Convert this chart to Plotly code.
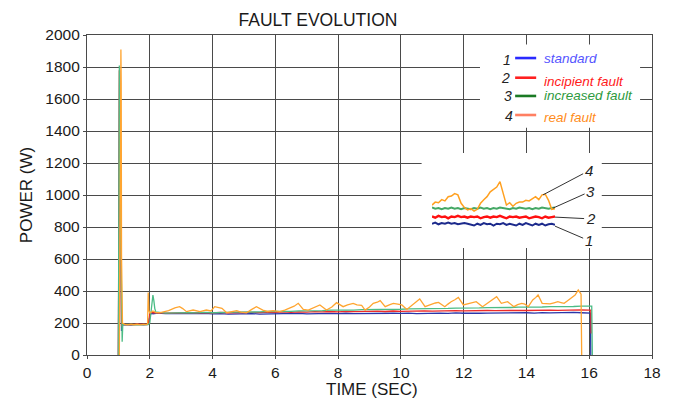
import plotly.graph_objects as go

# ---------------- data ----------------
t_run = [2.25, 2.5, 2.75, 3.0, 3.25, 3.5, 3.75, 4.0, 4.25, 4.5, 4.75, 5.0, 5.25, 5.5,
         5.75, 6.0, 6.25, 6.5, 6.75, 7.0, 7.25, 7.5, 7.75, 8.0, 8.25, 8.5, 8.75, 9.0,
         9.25, 9.5, 9.75, 10.0, 10.25, 10.5, 10.75, 11.0, 11.25, 11.5, 11.75, 12.0,
         12.25, 12.5, 12.75, 13.0, 13.25, 13.5, 13.75, 14.0, 14.25, 14.5, 14.75, 15.0,
         15.25, 15.5, 15.75, 16.0]

std_t_start = [1.0, 1.02, 1.04, 1.07, 1.1, 1.13, 1.2, 1.4, 1.6, 1.8, 1.95, 2.0, 2.05, 2.1, 2.2]
std_start = [0, 1500, 1780, 900, 150, 188, 190, 188, 192, 189, 191, 240, 262, 258, 260]
std_run = [262, 258, 259, 257, 259, 258, 260, 257, 259, 256, 258, 257, 259, 256, 258, 257,
           259, 258, 260, 257, 259, 258, 260, 258, 261, 259, 260, 258, 261, 259, 261, 260,
           262, 259, 261, 260, 262, 260, 263, 261, 263, 261, 262, 263, 261, 264, 262, 264,
           262, 265, 263, 265, 263, 266, 264, 265]
std_t_end = [16.04, 16.05]
std_end = [262, 0]

inc_t_start = [1.0, 1.03, 1.07, 1.1, 1.13, 1.2, 1.4, 1.6, 1.8, 1.95, 2.0, 2.05, 2.1, 2.2]
inc_start = [0, 1780, 1000, 180, 192, 191, 189, 193, 190, 192, 255, 268, 264, 262]
inc_run = [264, 262, 263, 261, 264, 262, 265, 263, 266, 264, 266, 265, 267, 265, 268, 266,
           269, 267, 270, 268, 271, 269, 272, 270, 273, 271, 273, 272, 274, 272, 275, 273,
           275, 274, 276, 274, 276, 275, 277, 276, 278, 276, 278, 277, 279, 277, 279, 278,
           280, 279, 281, 279, 281, 280, 282, 281]
inc_t_end = [16.05, 16.06]
inc_end = [281, 135]

incr_t_start = [1.0, 1.03, 1.06, 1.09, 1.12, 1.14, 1.3, 1.5, 1.7, 1.95, 2.0, 2.05, 2.1, 2.13, 2.16, 2.2]
incr_start = [0, 1810, 1000, 300, 83, 190, 192, 189, 191, 190, 200, 300, 375, 340, 290, 265]
incr_run = [268, 262, 264, 262, 265, 263, 266, 264, 267, 266, 268, 267, 270, 269, 272, 271,
            274, 273, 276, 275, 278, 277, 280, 279, 282, 281, 283, 283, 285, 284, 287, 286,
            288, 288, 290, 289, 291, 291, 293, 292, 294, 294, 296, 295, 297, 297, 299, 298,
            300, 300, 302, 301, 303, 303, 305, 304]
incr_t_end = [16.08, 16.1]
incr_end = [305, 0]

real_t = [1.03, 1.06, 1.08, 1.09, 1.10, 1.11, 1.13, 1.2, 1.3, 1.4, 1.5, 1.6, 1.7, 1.8, 1.9,
          1.93, 1.95, 1.97, 2.0, 2.1, 2.2, 2.3, 2.45, 2.6, 2.8, 2.95, 3.05, 3.17, 3.38, 3.6,
          3.8, 3.95, 4.07, 4.2, 4.3, 4.45, 4.6, 4.77, 4.9, 5.08, 5.25, 5.4, 5.6, 5.75, 5.93,
          6.14, 6.3, 6.46, 6.6, 6.73, 6.89, 7.05, 7.2, 7.3, 7.42, 7.63, 7.8, 7.95, 8.05, 8.16,
          8.3, 8.48, 8.6, 8.75, 8.86, 9.0, 9.12, 9.25, 9.34, 9.5, 9.65, 9.76, 9.9, 10.03,
          10.19, 10.3, 10.4, 10.5, 10.6, 10.77, 10.88, 10.98, 11.1, 11.2, 11.4, 11.5, 11.6,
          11.72, 11.83, 11.99, 12.1, 12.2, 12.4, 12.6, 12.72, 12.84, 12.95, 13.05, 13.2,
          13.3, 13.4, 13.6, 13.72, 13.85, 13.95, 14.06, 14.2, 14.3, 14.37, 14.5, 14.62,
          14.75, 14.88, 15.0, 15.1, 15.2, 15.3, 15.4, 15.55, 15.65, 15.7, 15.74, 15.76]
real_v = [0, 1200, 1910, 1700, 620, 500, 200, 192, 188, 193, 189, 192, 188, 191, 190,
          195, 390, 280, 262, 275, 265, 264, 270, 277, 295, 302, 290, 271, 281, 271,
          281, 275, 302, 298, 292, 264, 270, 277, 268, 264, 285, 302, 281, 272, 277,
          271, 280, 292, 305, 323, 285, 280, 292, 300, 313, 281, 300, 327, 315, 302,
          313, 323, 313, 310, 281, 300, 323, 330, 340, 302, 315, 323, 318, 313,
          285, 305, 323, 335, 350, 302, 310, 319, 325, 329, 302, 318, 333,
          345, 360, 313, 318, 323, 333, 302, 318, 333, 350, 365, 323,
          328, 333, 302, 315, 323, 318, 302, 344, 360, 375, 323, 322,
          319, 326, 333, 328, 323, 338, 354, 375, 406, 395, 380, 0]

# zoomed inset
t_zoom = [11.0, 11.1, 11.2, 11.3, 11.4, 11.5, 11.6, 11.7, 11.8, 11.9, 12.0, 12.1, 12.2,
          12.3, 12.4, 12.5, 12.6, 12.7, 12.8, 12.9, 13.0, 13.1, 13.2, 13.3, 13.4, 13.5,
          13.6, 13.7, 13.8, 13.9, 14.0, 14.1, 14.2, 14.3, 14.4, 14.5, 14.6, 14.7, 14.8]
zoom_real = [295, 300, 299, 304, 302, 309, 310, 314, 312, 298, 291, 287, 289, 285, 288,
             298, 304, 309, 317, 321, 325, 334, 312, 295, 299, 293, 298, 300, 300, 303,
             302, 306, 309, 304, 312, 313, 303, 288, 289]
zoom_incr = [291, 289, 290, 288, 290, 289, 291, 289, 290, 288, 290, 289, 288, 290, 289,
             291, 289, 290, 288, 290, 289, 291, 290, 289, 288, 290, 289, 291, 290, 289,
             290, 288, 290, 289, 291, 290, 289, 290, 291]
zoom_inc = [276, 274, 277, 275, 276, 273, 276, 275, 277, 275, 276, 274, 276, 275, 276,
            273, 275, 276, 274, 276, 275, 277, 275, 273, 276, 275, 276, 274, 275, 276,
            273, 275, 276, 275, 273, 276, 274, 275, 276]
zoom_std = [264, 266, 263, 265, 264, 266, 264, 265, 263, 264, 265, 264, 263, 261, 264,
            262, 265, 263, 264, 261, 264, 263, 265, 262, 264, 263, 261, 264, 262, 265,
            263, 261, 264, 262, 264, 261, 263, 264, 262]

series_names = ["standard", "incipient fault", "increased fault", "real fault"]
series_nums = ["1", "2", "3", "4"]
line_colors = ["#2a35a8", "#ee2a2a", "#4cbc86", "#ffa530"]
zoom_colors = ["#1c2a8c", "#ff1010", "#45a865", "#ffa020"]
legend_line_colors = ["#2a2aff", "#ff2020", "#1a7a24", "#ff7f62"]
legend_text_colors = ["#5555ff", "#ff1a1a", "#2e9a3e", "#ff8c1a"]

FONT = "Liberation Sans, Arial, sans-serif"

fig = go.Figure()

main_x = [std_t_start + t_run + std_t_end,
          inc_t_start + t_run + inc_t_end,
          incr_t_start + t_run + incr_t_end,
          real_t]
main_y = [std_start + std_run + std_end,
          inc_start + inc_run + inc_end,
          incr_start + incr_run + incr_end,
          real_v]
for i in range(4):
    fig.add_trace(go.Scatter(x=main_x[i], y=main_y[i], mode="lines", name=series_names[i],
                             line=dict(color=line_colors[i], width=1.3),
                             showlegend=False, xaxis="x", yaxis="y"))

zoom_y = [zoom_std, zoom_inc, zoom_incr, zoom_real]
zoom_w = [2.0, 2.4, 2.0, 1.5]
for i in range(4):
    fig.add_trace(go.Scatter(x=t_zoom, y=zoom_y[i], mode="lines",
                             line=dict(color=zoom_colors[i], width=zoom_w[i]),
                             showlegend=False, xaxis="x2", yaxis="y2"))

# white panels hiding the grid behind legend and inset
shapes = [
    dict(type="rect", xref="x", yref="y", x0=12.52, x1=17.62, y0=1420, y1=1940,
         fillcolor="white", line=dict(width=0), layer="between"),
    dict(type="rect", xref="x", yref="y", x0=10.66, x1=16.4, y0=668, y1=1262,
         fillcolor="white", line=dict(width=0), layer="between"),
]
annotations = []
leg_y_num = [1844, 1731, 1619, 1494]
leg_y_line = [1856, 1733, 1619, 1500]
leg_y_text = [1856, 1712, 1619, 1487]
leg_x_num = [13.38, 13.34, 13.41, 13.44]
for i in range(4):
    shapes.append(dict(type="line", xref="x", yref="y", x0=13.64, x1=14.31,
                       y0=leg_y_line[i], y1=leg_y_line[i],
                       line=dict(color=legend_line_colors[i], width=2.6), layer="above"))
    annotations.append(dict(x=leg_x_num[i], y=leg_y_num[i], xref="x", yref="y",
                            text="<i>" + series_nums[i] + "</i>", showarrow=False,
                            font=dict(family=FONT, size=14, color="#222")))
    annotations.append(dict(x=14.5, y=leg_y_text[i], xref="x", yref="y", xanchor="left",
                            text="<i>" + series_names[i] + "</i>", showarrow=False,
                            font=dict(family=FONT, size=13.5, color=legend_text_colors[i])))

# inset leader lines with numbers
tips = [(14.8, 260, 15.84, 236), (14.8, 275, 15.9, 272), (14.74, 290, 15.9, 318), (14.43, 312, 15.84, 352)]
for i, (tx, ty, lx, ly) in enumerate(tips):
    annotations.append(dict(x=tx, y=ty, xref="x2", yref="y2", ax=lx, ay=ly,
                            axref="x2", ayref="y2", text="<i>" + series_nums[i] + "</i>",
                            showarrow=True, arrowhead=0, arrowwidth=1, arrowcolor="#333",
                            font=dict(family=FONT, size=15, color="#222")))
annotations.append(dict(x=12.79, y=226, xref="x2", yref="y2", text="zoom", showarrow=False,
                        font=dict(family=FONT, size=18, color="#111")))

# x-axis title placed below tick labels
annotations.append(dict(x=0.505, y=-0.109, xref="paper", yref="paper", text="TIME (SEC)",
                        showarrow=False, xanchor="center", yanchor="middle",
                        font=dict(family=FONT, size=17, color="#1a1a1a")))

axis_common = dict(showgrid=True, gridcolor="#4a4a4a", gridwidth=1.3, showline=True,
                   linecolor="#4a4a4a", linewidth=1.3, mirror=True, zeroline=False,
                   ticks="outside", ticklen=3, tickcolor="#4a4a4a", automargin=False,
                   tickfont=dict(family=FONT, size=15.5, color="#1a1a1a"))

fig.update_layout(
    width=673, height=399,
    margin=dict(l=87, r=21, t=35, b=44),
    paper_bgcolor="white", plot_bgcolor="white",
    title=dict(text="FAULT EVOLUTION", x=0.4725, xanchor="center", y=0.95, yanchor="middle",
               yref="container", font=dict(family=FONT, size=17.5, color="#1a1a1a")),
    xaxis=dict(range=[0, 18], dtick=2, tick0=0, **axis_common),
    yaxis=dict(range=[0, 2000], dtick=200, tick0=0,
               title=dict(text="POWER (W)", font=dict(family=FONT, size=17, color="#1a1a1a"),
                          standoff=8),
               **axis_common),
    xaxis2=dict(domain=[0.6106, 0.8283], range=[11.0, 14.8], anchor="y2", visible=False),
    yaxis2=dict(domain=[0.384, 0.553], range=[250, 340], anchor="x2", visible=False),
    shapes=shapes,
    annotations=annotations,
)

fig.write_html("out.html")
